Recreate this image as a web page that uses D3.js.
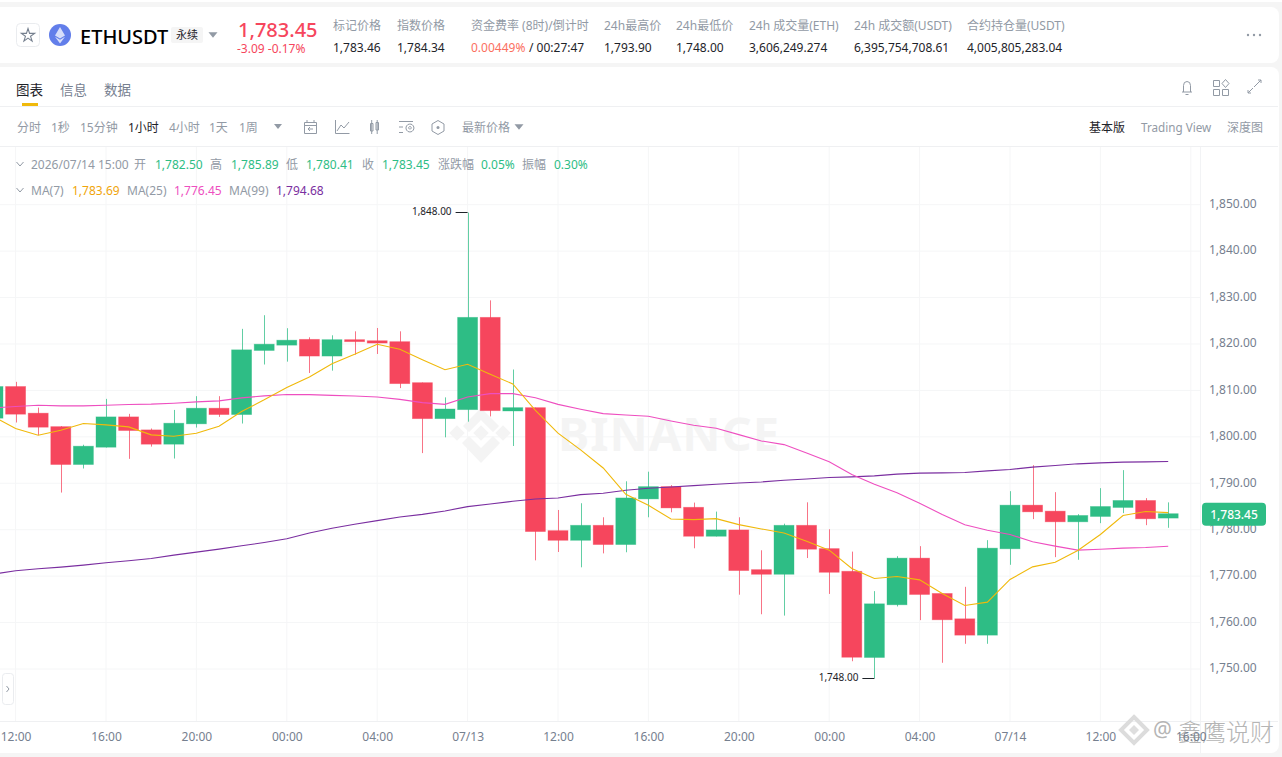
<!DOCTYPE html>
<html>
<head>
<meta charset="utf-8">
<script src="https://cdn.jsdelivr.net/npm/d3@7"></script>
<style>
  html, body { margin: 0; padding: 0; background: #f5f5f5; overflow: hidden; }
  svg { display: block; font-family: "Noto Sans", "Noto Sans CJK SC", sans-serif; }
  .axis .domain { display: none; }
  .axis line { display: none; }
  .axis text { fill: #76808f; font-size: 12px; font-family: "Noto Sans", sans-serif; }
</style>
</head>
<body>
<div id="chart"></div>
<script>
// first entry is the candle cut off by the left edge
const opens = [1804.02,1810.84,1805.1,1802.2,1794.04,1797.77,1804.3,1801.5,1798.42,1802.8,1806.17,1804.8,1818.6,1819.75,1821.0,1817.4,1820.93,1820.7,1820.5,1811.67,1803.92,1805.86,1825.74,1805.57,1806.29,1779.8,1777.72,1780.95,1776.8,1786.63,1789.28,1784.83,1778.59,1779.95,1771.4,1770.4,1780.95,1775.93,1771.05,1752.48,1763.83,1773.88,1766.27,1760.81,1757.29,1775.89,1785.29,1784.0,1781.7,1782.85,1784.79,1786.3,1782.5];
const highs = [1811.0,1811.85,1806.3,1802.3,1798.3,1808.18,1804.95,1801.8,1805.8,1808.76,1808.76,1823.26,1826.2,1823.4,1821.44,1821.87,1822.73,1823.45,1822.73,1811.7,1808.5,1848.3,1829.4,1814.5,1806.3,1784.25,1785.7,1782.68,1790.43,1792.5,1789.6,1785.84,1783.9,1782.68,1775.57,1781.3,1785.9,1780.1,1775.28,1766.77,1774.3,1776.46,1766.3,1767.7,1777.75,1788.3,1793.9,1788.09,1783.35,1788.95,1792.83,1786.8,1785.89];
const lows = [1803.0,1803.09,1800.36,1788.0,1793.18,1797.7,1795.26,1797.9,1795.33,1802.0,1804.3,1802.87,1815.58,1816.2,1813.75,1814.26,1817.7,1817.85,1810.5,1796.5,1799.9,1803.27,1804.4,1798.03,1773.4,1775.2,1771.9,1774.9,1775.14,1782.68,1783.75,1776.0,1778.55,1766.0,1761.79,1761.5,1773.9,1766.17,1751.67,1748.0,1763.47,1760.52,1751.34,1755.43,1755.43,1772.44,1782.28,1774.09,1773.52,1781.41,1783.57,1780.98,1780.41];
const closes = [1810.84,1804.88,1802.08,1794.04,1797.99,1804.3,1801.36,1798.42,1802.94,1806.17,1804.8,1818.74,1819.96,1820.82,1817.4,1820.93,1820.5,1820.2,1811.46,1803.92,1806.0,1825.74,1805.64,1806.29,1779.6,1777.72,1780.95,1776.8,1786.84,1789.28,1784.69,1778.59,1779.95,1771.2,1770.4,1780.95,1775.8,1770.83,1752.53,1764.04,1773.88,1766.05,1760.6,1757.29,1776.03,1785.29,1783.85,1781.7,1783.07,1785.0,1786.3,1782.35,1783.45];
const ma7 = [1804.38,1801.8,1800.36,1801.44,1802.87,1802.58,1802.15,1800.43,1800.14,1800.79,1802.3,1805.46,1807.97,1810.63,1812.9,1815.76,1817.77,1819.93,1818.85,1816.63,1814.47,1815.62,1813.47,1811.39,1805.7,1800.8,1797.2,1793.3,1787.63,1785.26,1782.32,1782.18,1782.39,1781.1,1780.17,1779.3,1777.5,1775.6,1771.65,1769.5,1769.93,1769.2,1766.27,1763.68,1764.4,1769.28,1772.0,1773.0,1775.53,1778.97,1783.07,1783.93,1783.69];
const ma25 = [1806.25,1806.53,1806.82,1806.68,1806.68,1806.82,1806.96,1807.04,1807.25,1807.54,1807.75,1808.4,1808.83,1809.12,1809.09,1808.94,1808.8,1808.59,1808.08,1807.37,1807.0,1808.59,1809.3,1809.3,1808.44,1807.0,1805.96,1805.0,1804.72,1804.43,1803.42,1802.5,1801.84,1800.48,1799.12,1798.33,1796.53,1794.62,1791.9,1789.8,1787.95,1785.7,1783.28,1781.06,1779.9,1778.97,1777.4,1776.46,1775.6,1775.8,1776.03,1776.17,1776.45];
const ma99 = [1770.43,1771.15,1771.58,1771.94,1772.37,1772.87,1773.3,1773.8,1774.52,1775.17,1775.81,1776.53,1777.25,1778.04,1779.3,1780.3,1781.16,1781.95,1782.74,1783.3,1784.04,1784.97,1785.54,1786.12,1786.62,1786.83,1787.55,1787.85,1788.5,1788.92,1789.2,1789.5,1789.78,1790.07,1790.29,1790.65,1790.93,1791.25,1791.39,1791.6,1791.97,1792.18,1792.25,1792.33,1792.68,1792.97,1793.47,1793.83,1794.19,1794.4,1794.55,1794.62,1794.68];

const priceTicks = [1750, 1760, 1770, 1780, 1790, 1800, 1810, 1820, 1830, 1840, 1850];
const timeTickIndex = [1, 5, 9, 13, 17, 21, 25, 29, 33, 37, 41, 45, 49, 53];
const timeTickLabels = ['12:00','16:00','20:00','00:00','04:00','07/13','12:00','16:00','20:00','00:00','04:00','07/14','12:00','16:00'];
const calloutLabels = ['1,848.00', '1,748.00'];

const statLabels = ['标记价格','指数价格','资金费率 (8时)/倒计时','24h最高价','24h最低价','24h 成交量(ETH)','24h 成交额(USDT)','合约持仓量(USDT)'];
const statValues = ['1,783.46','1,784.34','','1,793.90','1,748.00','3,606,249.274','6,395,754,708.61','4,005,805,283.04'];
const statX = [333, 397, 471, 604, 676, 749, 854, 967];
const tabs = ['图表','信息','数据'];
const tabX = [16, 60, 104];
const intervals = ['分时','1秒','15分钟','1小时','4小时','1天','1周'];
const intervalX = [17, 51, 80, 128, 169, 209, 239];

const UP = '#2ebd85', DOWN = '#f6465d', GREY = '#929aa5', DARK = '#1e2329';
const W = 1282, H = 757;
const PLOT_RIGHT = 1200, PLOT_TOP = 147, PLOT_BOTTOM = 721;

const svg = d3.select('#chart').append('svg').attr('width', W).attr('height', H);

const label = (x, y, str, color, size, weight, anchor) => svg.append('text')
  .attr('x', x).attr('y', y).attr('dy', '0.36em')
  .attr('fill', color).attr('font-size', size)
  .attr('font-weight', weight || 400)
  .attr('text-anchor', anchor || 'start')
  .text(str);

const tri = (x, y, s, color) => svg.append('path')
  .attr('d', `M${x - s},${y - s * 0.6}L${x + s},${y - s * 0.6}L${x},${y + s * 0.6}Z`)
  .attr('fill', color);

const icon = (d, width) => svg.append('path').attr('d', d)
  .attr('fill', 'none').attr('stroke', GREY).attr('stroke-width', width || 1);

// page cards
svg.append('rect').attr('width', W).attr('height', 2).attr('fill', '#fff');
svg.append('rect').attr('x', -10).attr('y', 7).attr('width', 1289).attr('height', 56).attr('rx', 8).attr('fill', '#fff');
svg.append('rect').attr('x', -10).attr('y', 67).attr('width', 1289).attr('height', 686).attr('rx', 8).attr('fill', '#fff');

// header
svg.append('rect').attr('x', 16.5).attr('y', 23.5).attr('width', 23).attr('height', 23).attr('rx', 4)
  .attr('fill', '#fff').attr('stroke', '#eaecef');
svg.append('path').attr('fill', 'none').attr('stroke', '#76808f').attr('stroke-width', 1.1)
  .attr('d', d3.symbol(d3.symbolStar, 55)()).attr('transform', 'translate(28,35.5)');
svg.append('circle').attr('cx', 60).attr('cy', 35).attr('r', 11).attr('fill', '#627eea');
svg.append('path').attr('fill', '#fff').attr('fill-opacity', 0.75)
  .attr('d', 'M60,27L65,35.5L60,38.5L55,35.5ZM60,39.8L65,36.8L60,43.5L55,36.8Z');
label(80, 37, 'ETHUSDT', '#000', 20, 500);
svg.append('rect').attr('x', 171).attr('y', 27).attr('width', 32).attr('height', 16).attr('rx', 2).attr('fill', '#f5f5f5');
label(187, 35.5, '永续', DARK, 11, 400, 'middle');
tri(213, 35, 4.5, GREY);
label(238, 29.5, '1,783.45', DOWN, 20, 500);
label(237, 48.5, '-3.09  -0.17%', DOWN, 12);

statLabels.forEach((d, i) => {
  label(statX[i], 26, d, GREY, 12);
  if (statValues[i]) label(statX[i], 47.5, statValues[i], DARK, 12);
});
label(471, 47.5, '0.00449%', '#fb6f5f', 12);
label(529, 47.5, '/ 00:27:47', DARK, 12);
svg.selectAll('circle.more').data([1248, 1254, 1260]).enter().append('circle')
  .attr('class', 'more').attr('cx', d => d).attr('cy', 35).attr('r', 1.2).attr('fill', GREY);

// tabs and toolbar
tabs.forEach((d, i) => label(tabX[i], 90.5, d, i === 0 ? DARK : '#76808f', 13.5));
svg.append('rect').attr('x', 22).attr('y', 103).attr('width', 16).attr('height', 3).attr('fill', '#f0b90b');
[106.5, 146.5].forEach(y => svg.append('line').attr('x1', 0).attr('x2', 1278).attr('y1', y).attr('y2', y).attr('stroke', '#eff0f2'));
intervals.forEach((d, i) => label(intervalX[i], 128, d, i === 3 ? DARK : GREY, 12));
tri(278, 126.5, 4, GREY);
icon('M304.5,122.5H316.5V133.5H304.5ZM304.5,125.5H316.5M307,120V123M314,120V123M313,129H308M310,127L308,129L310,131');
icon('M335.5,120V133.5H349.5M337,131L341,125L344,128L349,122');
icon('M370.5,123.5H373V131H370.5ZM376,122.5H378.5V130H376ZM371.7,120V134M377.2,120V134');
icon('M399,121.5H413M399,132.5H403M399,127H403M410,124A4,4 0 1 1 409.9,124M410,126.5A1.3,1.3 0 1 1 409.9,126.5');
icon('M438,120.5L444,124V131L438,134.5L432,131V124Z');
svg.append('circle').attr('cx', 438).attr('cy', 127.5).attr('r', 1.5).attr('fill', GREY);
label(462, 128, '最新价格', GREY, 12);
tri(519, 127, 4.5, GREY);
label(1089, 128, '基本版', DARK, 12);
label(1141, 128, 'Trading View', GREY, 11.7);
label(1227, 128, '深度图', GREY, 12);
icon('M1182,92H1192M1183.5,92V85.5A3.5,4 0 0 1 1190.5,85.5V92M1185.5,94.5H1188.5');
icon('M1213.5,80.5H1219.5V86.5H1213.5ZM1213.5,89.5H1219.5V95.5H1213.5ZM1222.5,89.5H1228.5V95.5H1222.5ZM1225.5,79.5L1229,83.5L1225.5,87.5L1222,83.5Z');
icon('M1254,87L1261,80M1258,80H1261V83M1253,88L1248,93M1248,90V93H1251');

// scales
const x = d3.scaleLinear().domain([0, 53]).range([-7, 1190.8]);
const y = d3.scaleLinear().domain([1750, 1850]).range([669, 204.7]);
const bodyW = 20;

// grid
const grid = svg.append('g').attr('stroke', '#f5f6f7');
grid.selectAll('line.h').data(priceTicks).enter().append('line').attr('class', 'h')
  .attr('x1', 0).attr('x2', PLOT_RIGHT).attr('y1', d => y(d)).attr('y2', d => y(d));
grid.selectAll('line.v').data(timeTickIndex).enter().append('line').attr('class', 'v')
  .attr('x1', d => x(d)).attr('x2', d => x(d)).attr('y1', PLOT_TOP).attr('y2', PLOT_BOTTOM);
svg.append('line').attr('x1', PLOT_RIGHT + 0.5).attr('x2', PLOT_RIGHT + 0.5).attr('y1', PLOT_TOP).attr('y2', 753).attr('stroke', '#f2f3f5');
svg.append('line').attr('x1', 0).attr('x2', 1278).attr('y1', PLOT_BOTTOM + 0.5).attr('y2', PLOT_BOTTOM + 0.5).attr('stroke', '#eff0f2');

// BINANCE mark behind the candles
const mark = svg.append('g').attr('fill', '#f4f4f4');
[[457, 433, 5.5], [481, 433, 5.5], [503, 433, 5.5]].forEach(d => {
  mark.append('rect').attr('x', -d[2]).attr('y', -d[2]).attr('width', d[2] * 2).attr('height', d[2] * 2)
    .attr('transform', `translate(${d[0]},${d[1]}) rotate(45)`);
});
mark.append('path').attr('d', 'M481,408L499,426L493,432L481,420L469,432L463,426Z');
mark.append('path').attr('d', 'M469,436L481,448L493,436L500,443L481,463L462,443Z');
mark.append('text').attr('x', 558).attr('y', 451).attr('font-size', 47).attr('font-weight', 700)
  .attr('letter-spacing', 1).text('BINANCE');

// candles
const chart = svg.append('g');
const candles = chart.selectAll('g.candle').data(closes).enter().append('g').attr('class', 'candle')
  .attr('fill', (d, i) => d >= opens[i] ? UP : DOWN)
  .attr('stroke', (d, i) => d >= opens[i] ? UP : DOWN);
candles.append('line')
  .attr('x1', (d, i) => Math.round(x(i)) + 0.5).attr('x2', (d, i) => Math.round(x(i)) + 0.5)
  .attr('y1', (d, i) => y(highs[i])).attr('y2', (d, i) => y(lows[i]))
  .attr('stroke-opacity', 0.75);
candles.append('rect')
  .attr('x', (d, i) => x(i) - bodyW / 2)
  .attr('width', bodyW)
  .attr('y', (d, i) => y(Math.max(d, opens[i])))
  .attr('height', (d, i) => Math.max(1, Math.abs(y(d) - y(opens[i]))))
  .attr('stroke-opacity', 0.45).attr('stroke-width', 0.8);

// moving averages
const maLine = d3.line().x((d, i) => x(i)).y(d => y(d));
[[ma99, '#7a2ea0'], [ma25, '#ee4fc0'], [ma7, '#f0b90b']].forEach(d => {
  chart.append('path').attr('d', maLine(d[0])).attr('fill', 'none').attr('stroke', d[1]).attr('stroke-width', 1.1);
});

// axes
svg.append('g').attr('class', 'axis').attr('transform', 'translate(1209,-1)')
  .call(d3.axisRight(y).tickValues(priceTicks).tickSize(0).tickPadding(0).tickFormat(d3.format(',.2f')));

// high and low callouts
const hiIdx = d3.maxIndex(highs), loIdx = d3.minIndex(lows);
const callout = (i, v, str) => {
  const cy = Math.round(y(v) - 0.5) + 0.5;
  svg.append('line').attr('x1', x(i) - 12).attr('x2', x(i)).attr('y1', cy).attr('y2', cy).attr('stroke', DARK);
  label(x(i) - 16, cy - 1, str, DARK, 10, 400, 'end');
};
callout(hiIdx, highs[hiIdx], calloutLabels[0]);
callout(loIdx, lows[loIdx], calloutLabels[1]);

// last price tag
const last = closes[closes.length - 1];
svg.append('rect').attr('x', 1202).attr('y', y(last) - 11).attr('width', 64).attr('height', 23).attr('rx', 4).attr('fill', UP);
label(1234, y(last) + 0.5, d3.format(',.2f')(last), '#fff', 12, 500, 'middle');

// legend rows
const legend = [
  [31, '2026/07/14 15:00', GREY], [134, '开', GREY], [155, '1,782.50', UP], [210, '高', GREY], [231, '1,785.89', UP],
  [286, '低', GREY], [306, '1,780.41', UP], [362, '收', GREY], [382, '1,783.45', UP], [438, '涨跌幅', GREY],
  [481, '0.05%', UP], [522, '振幅', GREY], [554, '0.30%', UP]
];
legend.forEach(d => label(d[0], 164.5, d[1], d[2], 12));
const maLegend = [
  [31, 'MA(7)', GREY], [72, '1,783.69', '#f0a50b'], [127, 'MA(25)', GREY], [174, '1,776.45', '#ee4fc0'],
  [229, 'MA(99)', GREY], [276, '1,794.68', '#7a2ea0']
];
maLegend.forEach(d => label(d[0], 190.5, d[1], d[2], 12));
[164, 190].forEach(yy => icon(`M16.5,${yy - 2}L20,${yy + 2}L23.5,${yy - 2}`));

// side handle
svg.append('rect').attr('x', 2.5).attr('y', 673.5).attr('width', 11).attr('height', 31).attr('rx', 3).attr('fill', '#fff').attr('stroke', '#eaecef');
icon('M6.5,686L9,689L6.5,692');

// repost watermark
const wm = svg.append('g').attr('fill', '#b5b5b5');
wm.append('path').attr('d', 'M1134,717L1147,730L1134,743L1121,730Z').attr('fill', 'none').attr('stroke', '#dcdcdc').attr('stroke-width', 4);
wm.append('path').attr('d', 'M1134,725L1139,730L1134,735L1129,730Z').attr('fill', '#dedede');
wm.append('text').attr('x', 1153).attr('y', 737).attr('font-size', 21).text('@');
wm.append('text').attr('x', 1178).attr('y', 741).attr('font-size', 24).attr('font-family', '"Noto Sans CJK SC"').attr('font-weight', 300).text('鑫鹰说财');

// time axis goes last, the label under the watermark stays readable as in the source
svg.append('g').attr('class', 'axis').attr('transform', `translate(0,${PLOT_BOTTOM + 11})`)
  .call(d3.axisBottom(x).tickValues(timeTickIndex).tickSize(0).tickPadding(0)
    .tickFormat((d, i) => timeTickLabels[i]));
</script>
</body>
</html>
